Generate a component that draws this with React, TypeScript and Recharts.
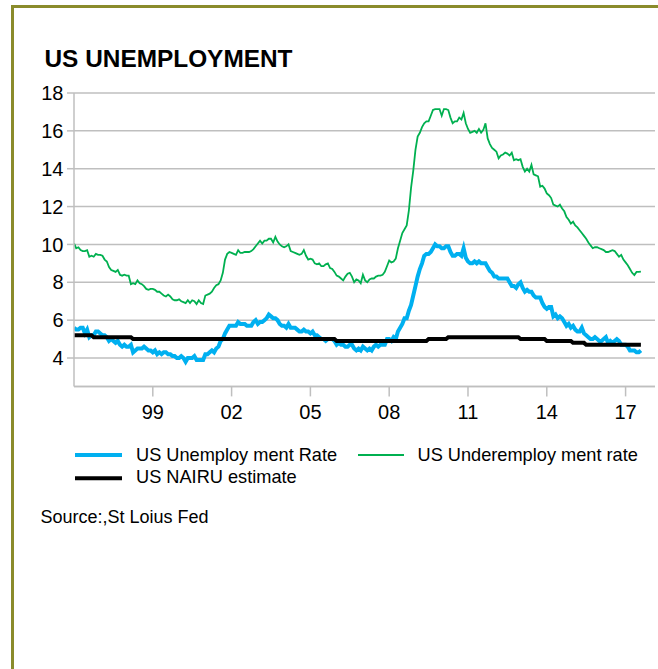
import React from "react";
import { LineChart, Line, XAxis, YAxis, CartesianGrid, Legend } from "recharts";

// ---- Data (monthly, Jan 1996 – Aug 2017) ----
const START_YEAR = 1996;

// US Unemployment Rate (%)
const unemploymentRate: number[] = [
  5.6, 5.5, 5.5, 5.6, 5.6, 5.3, 5.5, 5.1, 5.2, 5.2, 5.4, 5.4, // 1996
  5.3, 5.2, 5.2, 5.1, 4.9, 5.0, 4.9, 4.8, 4.9, 4.7, 4.6, 4.7, // 1997
  4.6, 4.6, 4.7, 4.3, 4.4, 4.5, 4.5, 4.5, 4.6, 4.5, 4.4, 4.4, // 1998
  4.3, 4.4, 4.2, 4.3, 4.2, 4.3, 4.3, 4.2, 4.2, 4.1, 4.1, 4.0, // 1999
  4.0, 4.1, 4.0, 3.8, 4.0, 4.0, 4.0, 4.1, 3.9, 3.9, 3.9, 3.9, // 2000
  4.2, 4.2, 4.3, 4.4, 4.3, 4.5, 4.6, 4.9, 5.0, 5.3, 5.5, 5.7, // 2001
  5.7, 5.7, 5.7, 5.9, 5.8, 5.8, 5.8, 5.7, 5.7, 5.7, 5.9, 6.0, // 2002
  5.8, 5.9, 5.9, 6.0, 6.1, 6.3, 6.2, 6.1, 6.1, 6.0, 5.8, 5.7, // 2003
  5.7, 5.6, 5.8, 5.6, 5.6, 5.6, 5.5, 5.4, 5.4, 5.5, 5.4, 5.4, // 2004
  5.3, 5.4, 5.2, 5.2, 5.1, 5.0, 5.0, 4.9, 5.0, 5.0, 5.0, 4.9, // 2005
  4.7, 4.8, 4.7, 4.7, 4.6, 4.6, 4.7, 4.7, 4.5, 4.4, 4.5, 4.4, // 2006
  4.6, 4.5, 4.4, 4.5, 4.4, 4.6, 4.7, 4.6, 4.7, 4.7, 4.7, 5.0, // 2007
  5.0, 4.9, 5.1, 5.0, 5.4, 5.6, 5.8, 6.1, 6.1, 6.5, 6.8, 7.3, // 2008
  7.8, 8.3, 8.7, 9.0, 9.4, 9.5, 9.5, 9.6, 9.8, 10.0, 9.9, 9.9, // 2009
  9.8, 9.8, 9.9, 9.9, 9.6, 9.4, 9.4, 9.5, 9.5, 9.4, 9.8, 9.3, // 2010
  9.1, 9.0, 9.0, 9.1, 9.0, 9.1, 9.0, 9.0, 9.0, 8.8, 8.6, 8.5, // 2011
  8.3, 8.3, 8.2, 8.2, 8.2, 8.2, 8.2, 8.0, 7.8, 7.8, 7.7, 7.9, // 2012
  8.0, 7.7, 7.5, 7.6, 7.5, 7.5, 7.3, 7.2, 7.2, 7.2, 6.9, 6.7, // 2013
  6.6, 6.7, 6.7, 6.2, 6.3, 6.1, 6.2, 6.1, 5.9, 5.7, 5.8, 5.6, // 2014
  5.7, 5.5, 5.4, 5.4, 5.6, 5.3, 5.2, 5.1, 5.0, 5.0, 5.1, 5.0, // 2015
  4.9, 4.9, 5.0, 5.1, 4.8, 4.9, 4.8, 4.9, 5.0, 4.9, 4.7, 4.7, // 2016
  4.7, 4.6, 4.4, 4.4, 4.4, 4.3, 4.3, 4.4, // 2017
];

// US Underemployment rate (%)
const underemploymentRate: number[] = [
  10.05, 9.8, 9.85, 9.7, 9.65, 9.65, 9.7, 9.35, 9.4, 9.35, 9.5, 9.45, // 1996
  9.45, 9.4, 9.2, 9.1, 8.8, 8.65, 8.6, 8.55, 8.65, 8.4, 8.35, 8.4, // 1997
  8.35, 8.35, 7.9, 7.95, 7.9, 8.1, 7.95, 7.9, 7.8, 7.65, 7.6, 7.65, // 1998
  7.65, 7.6, 7.5, 7.5, 7.4, 7.3, 7.25, 7.35, 7.25, 7.1, 7.05, 7.05, // 1999
  7.1, 7.0, 6.95, 6.9, 7.05, 6.9, 7.05, 7.0, 6.85, 7.05, 6.9, 6.85, // 2000
  7.3, 7.35, 7.4, 7.5, 7.7, 7.85, 7.9, 8.1, 8.5, 9.2, 9.5, 9.6, // 2001
  9.55, 9.5, 9.45, 9.7, 9.55, 9.55, 9.6, 9.6, 9.6, 9.65, 9.75, 9.9, // 2002
  10.05, 10.2, 10.05, 10.2, 10.2, 10.3, 10.3, 10.1, 10.4, 10.15, 10.0, 9.9, // 2003
  9.85, 9.9, 10.0, 9.65, 9.6, 9.55, 9.5, 9.45, 9.5, 9.7, 9.4, 9.2, // 2004
  9.25, 9.2, 9.0, 8.95, 9.0, 8.85, 8.85, 8.95, 9.0, 8.75, 8.7, 8.55, // 2005
  8.35, 8.3, 8.2, 8.1, 8.3, 8.45, 8.5, 8.3, 8.0, 8.15, 8.1, 7.95, // 2006
  8.4, 8.1, 8.0, 8.15, 8.2, 8.2, 8.3, 8.35, 8.35, 8.4, 8.55, 8.85, // 2007
  9.15, 9.05, 9.1, 9.25, 9.8, 10.2, 10.6, 10.8, 11.0, 11.8, 13.0, 13.9, // 2008
  15.0, 15.7, 15.9, 16.2, 16.4, 16.5, 16.5, 16.8, 17.1, 17.15, 17.15, 17.15, // 2009
  16.8, 17.15, 17.15, 17.1, 16.7, 16.4, 16.5, 16.5, 16.7, 16.6, 16.95, 16.4, // 2010
  16.1, 15.9, 15.95, 16.0, 15.9, 16.1, 15.9, 16.05, 16.4, 15.6, 15.3, 15.1, // 2011
  15.0, 14.9, 14.55, 14.7, 14.75, 14.85, 14.8, 14.7, 14.85, 14.45, 14.5, 14.45, // 2012
  14.5, 14.1, 13.85, 14.0, 13.85, 14.2, 13.7, 13.65, 13.6, 13.05, 13.1, 12.95, // 2013
  12.7, 12.6, 12.45, 12.1, 12.05, 12.0, 12.1, 11.9, 11.75, 11.45, 11.3, 11.1, // 2014
  11.2, 11.0, 10.9, 10.75, 10.6, 10.45, 10.3, 10.1, 9.95, 9.8, 9.85, 9.85, // 2015
  9.8, 9.75, 9.7, 9.6, 9.6, 9.65, 9.7, 9.65, 9.5, 9.35, 9.45, 9.2, // 2016
  9.05, 8.9, 8.7, 8.5, 8.38, 8.55, 8.55, 8.56, // 2017
];

// US NAIRU estimate (%), quarterly
const nairuQuarterly: number[] = [
  5.2, 5.2, 5.2, 5.1, // 1996
  5.1, 5.1, 5.1, 5.1, // 1997
  5.1, 5.0, 5.0, 5.0, // 1998
  5.0, 5.0, 5.0, 5.0, // 1999
  5.0, 5.0, 5.0, 5.0, // 2000
  5.0, 5.0, 5.0, 5.0, // 2001
  5.0, 5.0, 5.0, 5.0, // 2002
  5.0, 5.0, 5.0, 5.0, // 2003
  5.0, 5.0, 5.0, 5.0, // 2004
  5.0, 5.0, 5.0, 5.0, // 2005
  4.9, 4.9, 4.9, 4.9, // 2006
  4.9, 4.9, 4.9, 4.9, // 2007
  4.9, 4.9, 4.9, 4.9, // 2008
  4.9, 4.9, 5.0, 5.0, // 2009
  5.0, 5.1, 5.1, 5.1, // 2010
  5.1, 5.1, 5.1, 5.1, // 2011
  5.1, 5.1, 5.1, 5.1, // 2012
  5.0, 5.0, 5.0, 5.0, // 2013
  4.9, 4.9, 4.9, 4.9, // 2014
  4.8, 4.8, 4.7, 4.7, // 2015
  4.7, 4.7, 4.7, 4.7, // 2016
  4.7, 4.7, 4.7, // 2017
];

const xTickYears: number[] = [1999, 2002, 2005, 2008, 2011, 2014, 2017];
const xTickLabels: string[] = ["99", "02", "05", "08", "11", "14", "17"];
const yTicks: number[] = [4, 6, 8, 10, 12, 14, 16, 18];

const seriesNames = {
  u3: "US Unemploy ment Rate",
  u6: "US Underemploy ment rate",
  nairu: "US NAIRU estimate",
};

const title = "US UNEMPLOYMENT";
const source = "Source:,St Loius Fed";

const data = unemploymentRate.map((v, i) => ({
  t: START_YEAR + i / 12,
  u3: v,
  u6: underemploymentRate[i],
  nairu: nairuQuarterly[Math.floor(i / 3)],
}));

// ---- Styles ----
const FONT = "'Liberation Sans', Arial, Helvetica, sans-serif";
const BLUE = "#00b0f0";
const GREEN = "#00b050";
const GRID = "#bfbfbf";
const OLIVE = "#8a8b2b";

const W = 658;
const H = 669;
const X_MIN = 1996;
const X_MAX = 2018.12;
const PLOT_RIGHT = 655;
const PLOT_TOP = 93;
const PLOT_BOTTOM = 386.4;
const X_AXIS_H = 30;

const XTick = (props: any) => {
  const { x, y, payload } = props;
  const idx = xTickYears.indexOf(payload.value);
  const label = idx >= 0 ? xTickLabels[idx] : "";
  return (
    <text
      x={x}
      y={y}
      dy="0.71em"
      textAnchor="middle"
      fill="#000"
      fontSize={20}
      fontFamily={FONT}
    >
      {label}
    </text>
  );
};

const LegendContent = () => (
  <svg width={W} height={100} style={{ display: "block" }}>
    <line x1={75} x2={122} y1={15} y2={15} stroke={BLUE} strokeWidth={4} />
    <text x={136} y={20.7} fontSize={18.2} fontFamily={FONT} fill="#000">
      {seriesNames.u3}
    </text>
    <line x1={358} x2={404} y1={15} y2={15} stroke={GREEN} strokeWidth={2} />
    <text x={417.5} y={20.7} fontSize={18.2} fontFamily={FONT} fill="#000">
      {seriesNames.u6}
    </text>
    <line x1={75} x2={122} y1={38.3} y2={38.3} stroke="#000" strokeWidth={4} />
    <text x={136} y={43.3} fontSize={18.2} fontFamily={FONT} fill="#000">
      {seriesNames.nairu}
    </text>
    <text x={40.5} y={83.3} fontSize={18} fontFamily={FONT} fill="#000">
      {source}
    </text>
  </svg>
);

export default function App() {
  return (
    <div
      style={{
        position: "absolute",
        left: 0,
        top: 0,
        width: W,
        height: H,
        background: "#fff",
        overflow: "hidden",
        fontFamily: FONT,
      }}
    >
      <div
        style={{
          position: "absolute",
          left: 11,
          top: 5,
          width: W,
          height: H,
          borderTop: `3px solid ${OLIVE}`,
          borderLeft: `3px solid ${OLIVE}`,
        }}
      />
      <svg
        width={W}
        height={80}
        style={{ position: "absolute", left: 0, top: 0 }}
      >
        <text
          x={44.5}
          y={66.7}
          fontSize={24.4}
          fontWeight="bold"
          fontFamily={FONT}
          fill="#000"
        >
          {title}
        </text>
      </svg>
      <div style={{ position: "absolute", left: 0, top: 0 }}>
        <LineChart
          width={W}
          height={H}
          data={data}
          margin={{
            top: PLOT_TOP,
            right: W - PLOT_RIGHT,
            left: 10,
            bottom: H - PLOT_BOTTOM - X_AXIS_H,
          }}
        >
          <CartesianGrid
            vertical={false}
            stroke={GRID}
            strokeWidth={1.5}
          />
          <XAxis
            type="number"
            dataKey="t"
            domain={[X_MIN, X_MAX]}
            ticks={xTickYears}
            allowDataOverflow
            height={X_AXIS_H}
            tickSize={10}
            tickMargin={8}
            axisLine={{ stroke: GRID, strokeWidth: 1.5 }}
            tickLine={{ stroke: GRID, strokeWidth: 1.5 }}
            tick={<XTick />}
            interval={0}
          />
          <YAxis
            type="number"
            domain={[2.5, 18]}
            ticks={yTicks}
            allowDataOverflow
            width={64}
            tickSize={7}
            tickMargin={3.5}
            axisLine={{ stroke: GRID, strokeWidth: 1.5 }}
            tickLine={{ stroke: GRID, strokeWidth: 1.5 }}
            tick={{ fill: "#000", fontSize: 20, fontFamily: FONT }}
            interval={0}
          />
          <Line
            type="linear"
            dataKey="u3"
            name={seriesNames.u3}
            stroke={BLUE}
            strokeWidth={4}
            dot={false}
            isAnimationActive={false}
          />
          <Line
            type="linear"
            dataKey="u6"
            name={seriesNames.u6}
            stroke={GREEN}
            strokeWidth={1.8}
            dot={false}
            isAnimationActive={false}
          />
          <Line
            type="linear"
            dataKey="nairu"
            name={seriesNames.nairu}
            stroke="#000"
            strokeWidth={4}
            dot={false}
            isAnimationActive={false}
          />
          <Legend
            layout="horizontal"
            verticalAlign="middle"
            align="center"
            wrapperStyle={{ left: 0, top: 440, width: W, height: 100 }}
            content={<LegendContent />}
          />
        </LineChart>
      </div>
    </div>
  );
}
